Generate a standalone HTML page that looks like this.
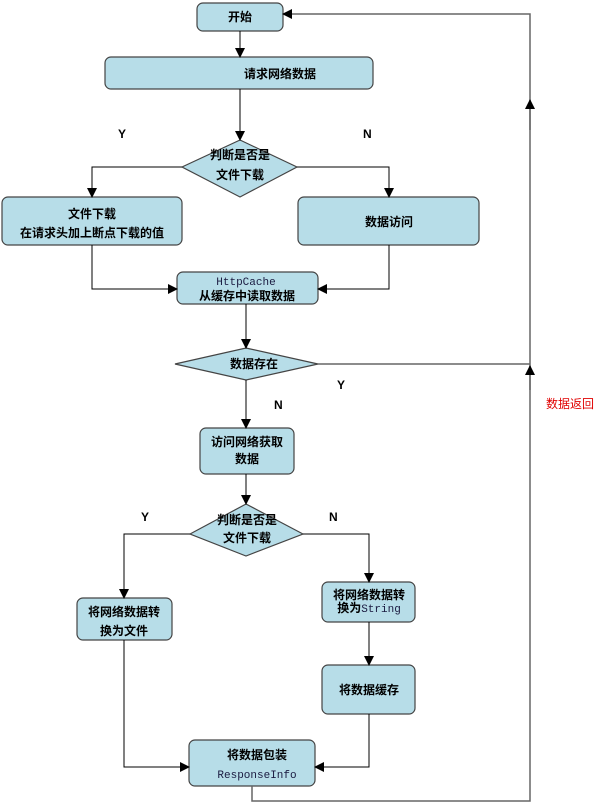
<!DOCTYPE html>
<html><head><meta charset="utf-8"><style>
html,body{margin:0;padding:0;background:#fff;}
svg{display:block;}
text{font-family:"Liberation Sans","Noto Sans CJK SC",sans-serif;font-size:12px;font-weight:bold;fill:#000;}
.m{font-family:"Liberation Mono","DejaVu Sans Mono",monospace;font-weight:normal;font-size:11px;fill:#1a1a40;}
</style></head><body>
<svg width="607" height="807" viewBox="0 0 607 807" xmlns="http://www.w3.org/2000/svg">
<defs>
<marker id="a" markerWidth="10" markerHeight="10" refX="9" refY="5" orient="auto" markerUnits="userSpaceOnUse">
<path d="M0,0 L10,5 L0,10 z" fill="#000"/></marker>
</defs>
<g fill="#b7dde8" stroke="#444" stroke-width="1.2">
<rect x="197" y="3" width="86" height="28" rx="6"/>
<rect x="105" y="57" width="268" height="32" rx="6"/>
<polygon points="240,140 297,167 240,197 182,167"/>
<rect x="2" y="197" width="180" height="48" rx="6"/>
<rect x="298" y="197" width="181" height="48" rx="6"/>
<rect x="177" y="272" width="141" height="32" rx="6"/>
<polygon points="246,348 318,364 246,380 175,364"/>
<rect x="200" y="428" width="94" height="46" rx="6"/>
<polygon points="246,504 303,534 246,556 190,534"/>
<rect x="77" y="598" width="95" height="42" rx="6"/>
<rect x="322" y="582" width="93" height="40" rx="6"/>
<rect x="322" y="665" width="93" height="49" rx="6"/>
<rect x="189" y="740" width="126" height="46" rx="6"/>
</g>
<g stroke="#000" stroke-width="1" fill="none">
<line x1="240" y1="31" x2="240" y2="57" marker-end="url(#a)"/>
<line x1="240" y1="89" x2="240" y2="140" marker-end="url(#a)"/>
<polyline points="182,167 92,167 92,197" marker-end="url(#a)"/>
<polyline points="297,167 389,167 389,197" marker-end="url(#a)"/>
<polyline points="92,245 92,289 177,289" marker-end="url(#a)"/>
<polyline points="389,245 389,289 318,289" marker-end="url(#a)"/>
<line x1="246" y1="304" x2="246" y2="348" marker-end="url(#a)"/>
<line x1="246" y1="380" x2="246" y2="428" marker-end="url(#a)"/>
<line x1="246" y1="474" x2="246" y2="504" marker-end="url(#a)"/>
<polyline points="190,534 124,534 124,598" marker-end="url(#a)"/>
<polyline points="303,534 369,534 369,582" marker-end="url(#a)"/>
<line x1="369" y1="622" x2="369" y2="665" marker-end="url(#a)"/>
<polyline points="124,640 124,767 189,767" marker-end="url(#a)"/>
<polyline points="369,714 369,767 315,767" marker-end="url(#a)"/>
</g>
<g stroke="#666" stroke-width="1.5" fill="none">
<polyline points="252,786 252,801 530,801 530,14 283,14" marker-end="url(#a)"/>
<line x1="318" y1="364" x2="530" y2="364"/>
<line x1="530" y1="130" x2="530" y2="100" marker-end="url(#a)"/>
<line x1="530" y1="390" x2="530" y2="366" marker-end="url(#a)"/>
</g>
<g text-anchor="middle">
<text x="240" y="21">开始</text>
<text x="280" y="78">请求网络数据</text>
<text x="240" y="159">判断是否是</text>
<text x="240" y="179">文件下载</text>
<text x="92" y="218">文件下载</text>
<text x="92" y="237">在请求头加上断点下载的值</text>
<text x="389" y="226">数据访问</text>
<text class="m" x="246" y="285">HttpCache</text>
<text x="247" y="300">从缓存中读取数据</text>
<text x="254" y="368">数据存在</text>
<text x="247" y="446">访问网络获取</text>
<text x="247" y="463">数据</text>
<text x="247" y="524">判断是否是</text>
<text x="247" y="542">文件下载</text>
<text x="124" y="616">将网络数据转</text>
<text x="124" y="635">换为文件</text>
<text x="369" y="599">将网络数据转</text>
<text x="369" y="612"><tspan>换为</tspan><tspan class="m">String</tspan></text>
<text x="369" y="694">将数据缓存</text>
<text x="257" y="759">将数据包装</text>
<text class="m" x="257" y="778">ResponseInfo</text>
</g>
<g font-family="Liberation Mono,monospace">
<text x="118" y="138">Y</text>
<text x="363" y="138">N</text>
<text x="337" y="389">Y</text>
<text x="274" y="409">N</text>
<text x="141" y="521">Y</text>
<text x="329" y="521">N</text>
</g>
<text x="546" y="408" style="fill:#e00000;font-weight:normal">数据返回</text>
</svg>
</body></html>
